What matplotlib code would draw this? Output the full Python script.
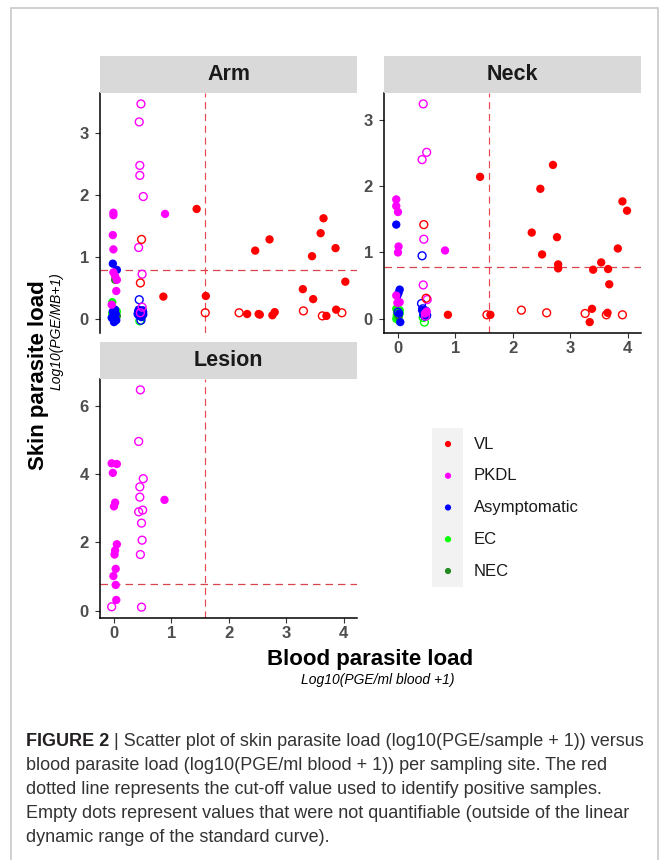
import matplotlib
matplotlib.use("Agg")
import matplotlib.pyplot as plt
from matplotlib import font_manager
from matplotlib.patches import Rectangle

plt.rcParams['font.family'] = ['Liberation Sans', 'DejaVu Sans']

# groups and colours
GROUPS = ['VL', 'PKDL', 'Asymptomatic', 'EC', 'NEC']
CODES = ['V', 'P', 'A', 'E', 'N']
COLORS = ['#FF0000', '#FF00FF', '#0000FF', '#00FF00', '#228B22']
DRAW_ORDER = ['E', 'N', 'A', 'P', 'V']

CUTOFF_SKIN = 0.78
CUTOFF_BLOOD = 1.58

# Arm: x = blood load, y = skin load, grp code, open (not quantifiable)
arm_x = [0.86, 1.44, 1.60, 2.32, 2.52, 2.54, 2.46, 2.71, 2.76, 2.80, 3.29, 3.45, 3.47, 3.60, 3.65, 3.70, 3.86, 3.87, 4.03,
         0.48, 0.46, 1.59, 2.18, 3.30, 3.63, 3.97,
         0.89, -0.01, -0.01, -0.02, -0.01, -0.01, 0.02, 0.05, 0.04, -0.04,
         0.47, 0.44, 0.45, 0.45, 0.51, 0.43, 0.49, 0.49, 0.46,
         -0.02, 0.05, -0.02, 0.03, -0.04, 0.00, 0.04, 0.02, 0.42, 0.46, 0.50, 0.44, 0.48, 0.43, 0.51,
         0.44, 0.47, 0.42, 0.50,
         -0.03, 0.00, 0.03, -0.02, 0.04, 0.01, -0.03, 0.05, 0.02, 0.50,
         0.45, 0.48,
         0.02, 0.05, -0.01, 0.44]
arm_y = [0.36, 1.77, 0.37, 0.08, 0.08, 0.07, 1.10, 1.28, 0.06, 0.11, 0.48, 1.01, 0.32, 1.38, 1.62, 0.05, 1.14, 0.15, 0.60,
         1.28, 0.58, 0.10, 0.10, 0.13, 0.05, 0.10,
         1.69, 1.71, 1.67, 1.35, 1.12, 0.75, 0.69, 0.63, 0.45, 0.23,
         3.46, 3.17, 2.47, 2.31, 1.97, 1.15, 0.72, 0.19, 0.10,
         0.89, 0.79, 0.12, 0.08, 0.02, -0.05, -0.02, 0.15, 0.12, 0.09, 0.14, 0.05, 0.03, 0.15, 0.07,
         0.31, -0.02, 0.08, 0.11,
         0.27, 0.13, 0.10, 0.06, 0.03, 0.00, 0.09, 0.12, -0.03, 0.09,
         -0.03, 0.04,
         0.63, 0.05, 0.10, 0.06]
arm_grp = list('V' * 19 + 'V' * 7 + 'P' * 10 + 'P' * 9 + 'A' * 15 + 'A' * 4 + 'E' * 10 + 'E' * 2 + 'N' * 4)
arm_open = [0] * 19 + [1] * 7 + [0] * 10 + [1] * 9 + [0] * 15 + [1] * 4 + [0] * 10 + [1] * 2 + [0] * 4

# Neck
neck_x = [0.87, 1.43, 1.61, 2.33, 2.48, 2.51, 2.70, 2.77, 2.79, 2.79, 3.34, 3.38, 3.40, 3.54, 3.66, 3.65, 3.68, 3.83, 3.91, 3.99,
          0.45, 0.49, 1.55, 2.15, 2.59, 3.26, 3.63, 3.91,
          0.82, -0.03, -0.03, 0.00, 0.01, 0.00, -0.03, -0.01, 0.03, 0.47, 0.50,
          0.44, 0.50, 0.42, 0.45, 0.44, 0.51, 0.48,
          -0.03, 0.03, 0.01, -0.01, 0.04, 0.02, 0.42, 0.46, 0.44, 0.49, 0.47,
          0.42, 0.41, 0.43, 0.50, 0.00,
          -0.03, 0.02, -0.01, 0.03, -0.02, 0.01, -0.03, 0.02, 0.00, 0.03, 0.45,
          0.46, 0.44,
          0.01]
neck_y = [0.06, 2.14, 0.06, 1.30, 1.96, 0.97, 2.32, 1.23, 0.82, 0.76, -0.05, 0.15, 0.74, 0.85, 0.75, 0.09, 0.52, 1.06, 1.77, 1.63,
          1.42, 0.31, 0.06, 0.13, 0.09, 0.08, 0.06, 0.06,
          1.03, 1.80, 1.70, 1.61, 1.09, 1.00, 0.35, 0.24, 0.25, 0.08, 0.11,
          3.24, 2.51, 2.40, 1.20, 0.51, 0.29, 0.04,
          1.42, 0.44, 0.39, 0.35, -0.05, 0.08, 0.13, 0.10, 0.06, 0.12, 0.03,
          0.95, 0.23, 0.15, 0.05, 0.10,
          0.15, 0.12, 0.10, 0.08, 0.05, 0.03, 0.00, -0.03, 0.07, 0.13, 0.09,
          -0.05, 0.02,
          0.04]
neck_grp = list('V' * 20 + 'V' * 8 + 'P' * 11 + 'P' * 7 + 'A' * 11 + 'A' * 5 + 'E' * 11 + 'E' * 2 + 'N')
neck_open = [0] * 20 + [1] * 8 + [0] * 11 + [1] * 7 + [0] * 11 + [1] * 5 + [0] * 11 + [1] * 2 + [0]

# Lesion (PKDL only)
lesion_x = [-0.04, 0.05, -0.02, 0.02, 0.00, 0.05, 0.02, 0.01, 0.03, -0.01, 0.03, 0.04, 0.88,
            0.46, 0.43, 0.51, 0.45, 0.45, 0.43, 0.50, 0.48, 0.49, 0.46, 0.48, -0.04]
lesion_y = [4.31, 4.29, 4.03, 3.16, 3.05, 1.94, 1.76, 1.64, 1.22, 1.01, 0.75, 0.31, 3.24,
            6.46, 4.95, 3.86, 3.62, 3.32, 2.89, 2.94, 2.56, 2.06, 1.64, 0.10, 0.11]
lesion_grp = list('P' * 25)
lesion_open = [0] * 13 + [1] * 12

X_TICKS = [0, 1, 2, 3, 4]

W, H = 664, 860


def box(left, top, right, bottom):
    # pixel box -> figure rect
    return [left / W, 1 - bottom / H, (right - left) / W, (bottom - top) / H]


def expand(vals):
    lo, hi = min(vals), max(vals)
    pad = (hi - lo) * 0.05
    return lo - pad, hi + pad


fig = plt.figure(figsize=(W / 100, H / 100), dpi=100)

all_x = arm_x + neck_x + lesion_x + [CUTOFF_BLOOD]
xlim = expand(all_x)

panels = [
    ('Arm', arm_x, arm_y, arm_grp, arm_open, (100, 93, 357, 333), [0, 1, 2, 3], False),
    ('Neck', neck_x, neck_y, neck_grp, neck_open, (384, 93, 641, 333), [0, 1, 2, 3], True),
    ('Lesion', lesion_x, lesion_y, lesion_grp, lesion_open, (100, 379, 357, 618), [0, 2, 4, 6], True),
]

for name, xs, ys, gs, op, (l, t, r, b), yt, show_x in panels:
    ax = fig.add_axes(box(l, t, r, b))
    for code in DRAW_ORDER:
        col = COLORS[CODES.index(code)]
        fx = [x for x, g, o in zip(xs, gs, op) if g == code and not o]
        fy = [y for y, g, o in zip(ys, gs, op) if g == code and not o]
        ox = [x for x, g, o in zip(xs, gs, op) if g == code and o]
        oy = [y for y, g, o in zip(ys, gs, op) if g == code and o]
        if fx:
            ax.scatter(fx, fy, s=36, c=col, edgecolors='none', zorder=3)
        if ox:
            ax.scatter(ox, oy, s=32, facecolors='none', edgecolors=col, linewidths=1.0, zorder=3)
    ax.axhline(CUTOFF_SKIN, color='#D9434B', lw=0.9, dashes=(6, 4), zorder=2)
    ax.axvline(CUTOFF_BLOOD, color='#E8484F', lw=0.85, dashes=(6, 4), zorder=2)

    ax.set_xlim(xlim)
    ax.set_ylim(expand(ys + [CUTOFF_SKIN]))
    for s in ['top', 'right']:
        ax.spines[s].set_visible(False)
    ax.spines['left'].set_linewidth(1.1)
    ax.spines['bottom'].set_linewidth(1.1)
    ax.set_yticks(yt)
    ax.set_yticklabels([str(v) for v in yt], fontweight='bold')
    ax.tick_params(length=3.5, width=0.8, color='#333333', labelsize=12,
                   labelcolor='#4D4D4D', pad=4.5)
    if show_x:
        ax.set_xticks(X_TICKS)
        ax.set_xticklabels([str(v) for v in X_TICKS], fontweight='bold')
        ax.tick_params(axis='x', pad=2.5)
    else:
        ax.spines['bottom'].set_visible(False)
        ax.tick_params(axis='x', bottom=False, labelbottom=False)

    # facet strip
    st = fig.add_axes(box(l, t - 37, r, t))
    st.set_facecolor('#D9D9D9')
    st.set_xticks([])
    st.set_yticks([])
    for s in st.spines.values():
        s.set_visible(False)
    st.text(0.5, 0.5, name, ha='center', va='center', fontsize=15.5,
            fontweight='bold', color='#1A1A1A', transform=st.transAxes)

# axis titles
fig.text(39 / W, 1 - 375 / H, 'Skin parasite load', rotation=90, ha='center', va='center',
         fontsize=16, fontweight='bold', color='black')
fig.text(57 / W, 1 - 331 / H, 'Log10(PGE/MB+1)', rotation=90, ha='center', va='center',
         fontsize=10, fontstyle='italic', color='black')
fig.text(370 / W, 1 - 659 / H, 'Blood parasite load', ha='center', va='center',
         fontsize=16, fontweight='bold', color='black')
fig.text(378 / W, 1 - 680 / H, 'Log10(PGE/ml blood +1)', ha='center', va='center',
         fontsize=10, fontstyle='italic', color='black')

# legend
lg = fig.add_axes(box(432, 428, 620, 587))
lg.set_xlim(0, 188)
lg.set_ylim(159, 0)
lg.axis('off')
lg.add_patch(Rectangle((0, 0), 31, 159, facecolor='#F2F2F2', edgecolor='none'))
for i, (lab, col) in enumerate(zip(GROUPS, COLORS)):
    yy = 16 + i * 31.75
    lg.scatter([16], [yy], s=20, c=col, edgecolors='none')
    lg.text(42, yy, lab, ha='left', va='center', fontsize=12, color='#1A1A1A')

# frame around the figure
fig.add_artist(Rectangle((11 / W, -0.05), (658 - 11) / W, 1.05 - 8 / H, transform=fig.transFigure,
                         facecolor='none', edgecolor='#C8C8C8', lw=1.2))

# caption
names = {f.name for f in font_manager.fontManager.ttflist}
if 'Liberation Sans Narrow' in names:
    cap_fam, cap_fs = ['Liberation Sans Narrow', 'DejaVu Sans'], 15.5
else:
    cap_fam, cap_fs = ['Liberation Sans', 'DejaVu Sans'], 13

caption = [
    ' | Scatter plot of skin parasite load (log10(PGE/sample + 1)) versus',
    'blood parasite load (log10(PGE/ml blood + 1)) per sampling site. The red',
    'dotted line represents the cut-off value used to identify positive samples.',
    'Empty dots represent values that were not quantifiable (outside of the linear',
    'dynamic range of the standard curve).',
]
fig.canvas.draw()
renderer = fig.canvas.get_renderer()
head = fig.text(26 / W, 1 - 741 / H, 'FIGURE 2', ha='left', va='center', family=cap_fam,
                fontsize=cap_fs, fontweight='bold', color='#231F20')
hw = head.get_window_extent(renderer).width
for i, line in enumerate(caption):
    x0 = (26 + hw) / W if i == 0 else 26 / W
    fig.text(x0, 1 - (741 + i * 24) / H, line, ha='left', va='center', family=cap_fam,
             fontsize=cap_fs, color='#333333')

fig.savefig('out.png', dpi=100)
